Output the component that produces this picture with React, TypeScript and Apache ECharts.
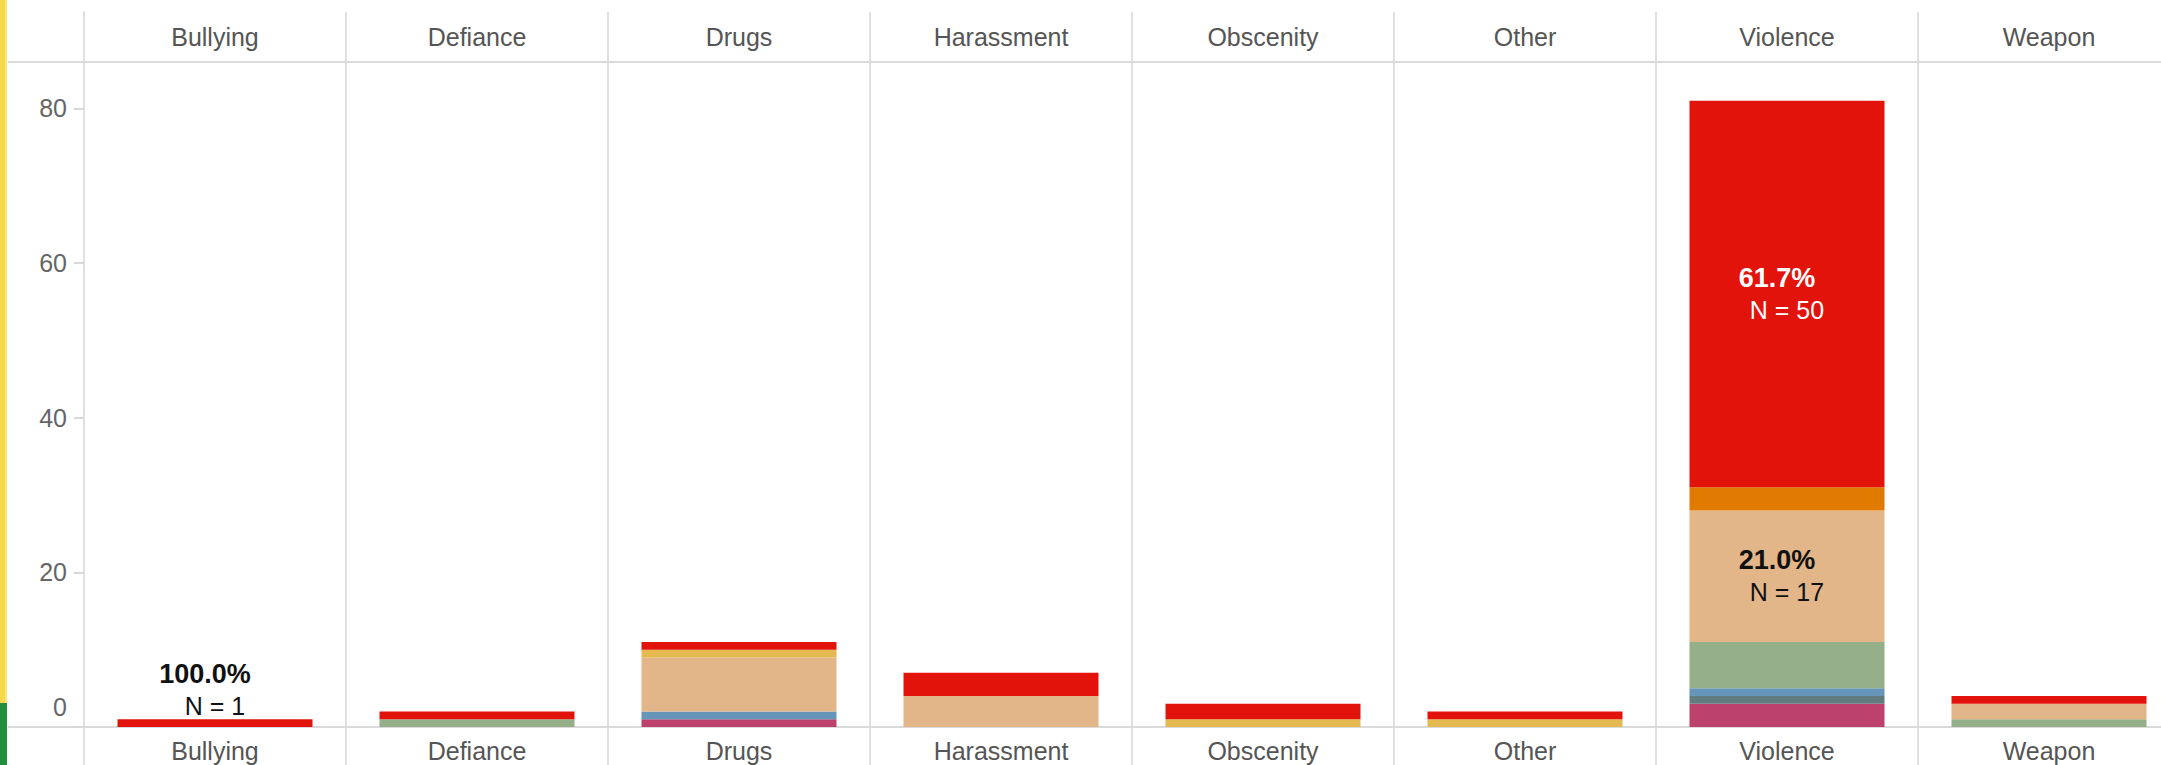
import React, { useEffect, useRef } from "react";
import * as echarts from "echarts";

const categories = ["Bullying", "Defiance", "Drugs", "Harassment", "Obscenity", "Other", "Violence", "Weapon"];

// stacked segments, bottom to top
const pinkValues = [0, 0, 1, 0, 0, 0, 3, 0];
const slateValues = [0, 0, 0, 0, 0, 0, 1, 0];
const blueValues = [0, 0, 1, 0, 0, 0, 1, 0];
const greenValues = [0, 1, 0, 0, 0, 0, 6, 1];
const tanValues = [0, 0, 7, 4, 0, 0, 17, 2];
const yellowValues = [0, 0, 1, 0, 1, 1, 0, 0];
const orangeValues = [0, 0, 0, 0, 0, 0, 3, 0];
const redValues = [1, 1, 1, 3, 2, 1, 50, 1];

const yTicks = [0, 20, 40, 60, 80];

// which marks carry a label: [series key, category, placement, text colour]
const labelledMarks = [
  ["red", "Bullying", "top", "#111"],
  ["red", "Violence", "inside", "#fff"],
  ["tan", "Violence", "inside", "#111"],
];

const FONT = 'Arial, "Liberation Sans", sans-serif';
const GRID_LINE = "#e0e0e0";

export default function App() {
  const ref = useRef<HTMLDivElement>(null);

  useEffect(() => {
    document.body.style.margin = "0";
    document.body.style.overflow = "hidden";
    if (!ref.current) return;
    const chart = echarts.init(ref.current, null, { renderer: "svg" });

    const seriesDefs = [
      { key: "pink", name: "Group 1", color: "#BD416D", values: pinkValues },
      { key: "slate", name: "Group 2", color: "#617B7F", values: slateValues },
      { key: "blue", name: "Group 3", color: "#6596B9", values: blueValues },
      { key: "green", name: "Group 4", color: "#94AF8A", values: greenValues },
      { key: "tan", name: "Group 5", color: "#E3B689", values: tanValues },
      { key: "yellow", name: "Group 6", color: "#E4BA50", values: yellowValues },
      { key: "orange", name: "Group 7", color: "#E07A00", values: orangeValues },
      { key: "red", name: "Group 8", color: "#E2130A", values: redValues },
    ];

    const totals = categories.map((_, i) =>
      seriesDefs.reduce((s, d) => s + d.values[i], 0)
    );

    const series = seriesDefs.map((d) => ({
      type: "bar",
      name: d.name,
      stack: "total",
      xAxisIndex: 0,
      yAxisIndex: 0,
      barWidth: 195,
      itemStyle: { color: d.color },
      data: d.values.map((v, i) => {
        const lm = labelledMarks.find((m) => m[0] === d.key && m[1] === categories[i]);
        if (!lm) return v;
        const pct = ((v / totals[i]) * 100).toFixed(1);
        return {
          value: v,
          label: {
            show: true,
            position: lm[2],
            distance: -3,
            formatter: `{p|${pct}%}\n{n|N = ${v}}`,
            rich: {
              p: { fontSize: 27, fontWeight: "bold", color: lm[3], lineHeight: 32, fontFamily: FONT, padding: [0, 20, 0, 0] },
              n: { fontSize: 25, color: lm[3], lineHeight: 32, fontFamily: FONT },
            },
          },
        };
      }),
    }));

    const plainAxisX = (gridIndex: number) => ({
      gridIndex,
      type: "category",
      data: categories,
      axisLine: { show: false },
      axisTick: { show: false },
      axisLabel: { show: false },
      splitLine: { show: true, lineStyle: { color: GRID_LINE, width: 2 } },
    });
    const plainAxisY = (gridIndex: number) => ({
      gridIndex,
      type: "value",
      min: 0,
      max: 1,
      axisLine: { show: true, lineStyle: { color: GRID_LINE, width: 2 } },
      axisTick: { show: false },
      axisLabel: { show: false },
      splitLine: { show: false },
    });

    chart.setOption({
      animation: false,
      backgroundColor: "#fff",
      textStyle: { fontFamily: FONT },
      grid: [
        { left: 84, width: 2096, top: 62, height: 665 },
        { left: 84, width: 2096, top: 12, height: 50 },
        { left: 84, width: 2096, top: 727, height: 38 },
      ],
      xAxis: [
        {
          gridIndex: 0,
          type: "category",
          data: categories,
          position: "bottom",
          axisLine: { show: true, lineStyle: { color: "#dadada", width: 2 } },
          axisTick: { show: false },
          axisLabel: { margin: 11, fontSize: 25, color: "#555", fontFamily: FONT },
          splitLine: { show: true, lineStyle: { color: GRID_LINE, width: 2 } },
        },
        {
          gridIndex: 0,
          type: "category",
          data: categories,
          position: "top",
          axisLine: { show: true, lineStyle: { color: "#dadada", width: 2 } },
          axisTick: { show: false },
          axisLabel: { margin: 13, fontSize: 25, color: "#555", fontFamily: FONT },
          splitLine: { show: false },
        },
        plainAxisX(1),
        plainAxisX(2),
      ],
      yAxis: [
        {
          gridIndex: 0,
          type: "value",
          min: 0,
          max: 86,
          interval: 20,
          axisLine: { show: true, lineStyle: { color: GRID_LINE, width: 2 } },
          axisTick: { show: true, length: 10, lineStyle: { color: "#d8d8d8", width: 2 } },
          axisLabel: {
            margin: 17,
            fontSize: 25,
            color: "#666",
            fontFamily: FONT,
            showMaxLabel: false,
            formatter: (v: number) =>
              yTicks.includes(v) ? (v === 0 ? "{z|0}" : String(v)) : "",
            rich: { z: { fontSize: 25, color: "#666", fontFamily: FONT, padding: [0, 0, 40, 0] } },
          },
          splitLine: { show: false },
        },
        plainAxisY(1),
        plainAxisY(2),
      ],
      graphic: [
        { type: "rect", shape: { x: 0, y: 0, width: 7, height: 703 }, style: { fill: "#F6DA4B" }, silent: true },
        { type: "rect", shape: { x: 5, y: 0, width: 2, height: 703 }, style: { fill: "#FBE774" }, silent: true },
        { type: "rect", shape: { x: 0, y: 703, width: 7, height: 62 }, style: { fill: "#228F3E" }, silent: true },
        { type: "line", shape: { x1: 8, y1: 62, x2: 84, y2: 62 }, style: { stroke: "#dadada", lineWidth: 2 }, silent: true },
        { type: "line", shape: { x1: 8, y1: 727, x2: 84, y2: 727 }, style: { stroke: "#dadada", lineWidth: 2 }, silent: true },
      ],
      series,
    });

    return () => chart.dispose();
  }, []);

  return <div ref={ref} style={{ width: 2180, height: 765 }} />;
}
